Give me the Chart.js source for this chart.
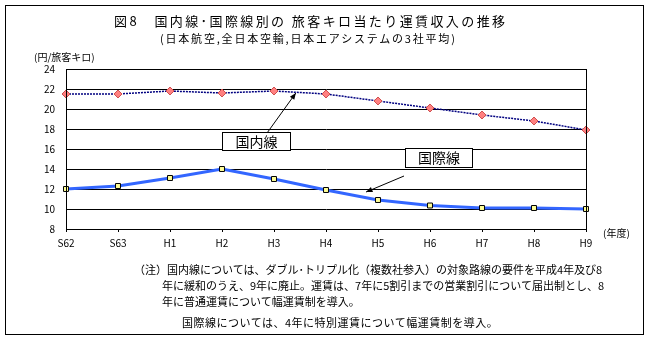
<!DOCTYPE html>
<html>
<head>
<meta charset="utf-8">
<script src="https://cdn.jsdelivr.net/npm/chart.js@4"></script>
<style>
  body { margin: 0; background: #fff; }
  #wrap { position: relative; width: 650px; height: 340px; overflow: hidden;
          font-family: "Noto Sans CJK JP", sans-serif; color: #000; }
  #frame { position: absolute; left: 5px; top: 5px; width: 637px; height: 328px; border: 1px solid #000; }
  canvas { position: absolute; left: 0; top: 0; }
  .t { position: absolute; white-space: nowrap; line-height: 1; }
  .note { font-size: 11px; letter-spacing: 0; }
  .box { position: absolute; background: #fff; border: 1px solid #000; font-size: 14px;
         line-height: 16px; text-align: center; }
</style>
</head>
<body>
<div id="wrap">
  <div id="frame"></div>
  <canvas id="myChart" width="650" height="340"></canvas>
  <div class="t" style="left:114px;top:14px;font-size:13px;letter-spacing:2.4px">図8　国内線･国際線別の 旅客キロ当たり運賃収入の推移</div>
  <div class="t" style="left:160px;top:33px;font-size:11px;letter-spacing:1.8px">(日本航空,全日本空輸,日本エアシステムの3社平均)</div>
  <div class="t" style="left:34px;top:52px;font-size:10px">(円/旅客キロ)</div>
  <div class="t" style="left:603px;top:228px;font-size:10px">(年度)</div>
  <div class="box" style="left:222px;top:132px;width:67px;height:17px">国内線</div>
  <div class="box" style="left:405px;top:148px;width:66px;height:18px">国際線</div>
  <div class="t note" style="left:134px;top:264px">（注）国内線については、ダブル･トリプル化（複数社参入）の対象路線の要件を平成4年及び8</div>
  <div class="t note" style="left:162px;top:280px">年に緩和のうえ、9年に廃止。運賃は、7年に5割引までの営業割引について届出制とし、8</div>
  <div class="t note" style="left:162px;top:296px">年に普通運賃について幅運賃制を導入。</div>
  <div class="t note" style="left:182px;top:317px;letter-spacing:0.5px">国際線については、4年に特別運賃について幅運賃制を導入。</div>
</div>
<script>
// data
const years = ["S62", "S63", "H1", "H2", "H3", "H4", "H5", "H6", "H7", "H8", "H9"];
const domestic = [21.5, 21.5, 21.8, 21.6, 21.8, 21.5, 20.8, 20.1, 19.4, 18.8, 17.9];
const international = [12.0, 12.3, 13.1, 14.0, 13.0, 11.9, 10.9, 10.35, 10.1, 10.1, 10.0];
const yTicks = [8, 10, 12, 14, 16, 18, 20, 22, 24];

// arrows: [from index, from value, to index, to value]
const arrows = [
    [3.88, 17.7, 4.42, 21.6],
    [6.5, 13.3, 5.77, 11.7],
];

// frame around plot + callout arrows
const extras = {
    id: "extras",
    afterDraw(chart) {
        const c = chart.ctx;
        const a = chart.chartArea;
        const xs = chart.scales.x, ys = chart.scales.y;
        c.save();
        c.strokeStyle = "#000";
        c.lineWidth = 1;
        c.strokeRect(Math.round(a.left) + 0.5, Math.round(a.top) + 0.5,
            Math.round(a.right - a.left), Math.round(a.bottom - a.top));
        arrows.forEach(([i0, v0, i1, v1]) => {
            const x0 = xs.getPixelForValue(i0), y0 = ys.getPixelForValue(v0);
            const x1 = xs.getPixelForValue(i1), y1 = ys.getPixelForValue(v1);
            c.beginPath();
            c.moveTo(x0, y0);
            c.lineTo(x1, y1);
            c.stroke();
            const ang = Math.atan2(y1 - y0, x1 - x0);
            c.beginPath();
            c.moveTo(x1, y1);
            c.lineTo(x1 - 7 * Math.cos(ang - 0.4), y1 - 7 * Math.sin(ang - 0.4));
            c.lineTo(x1 - 7 * Math.cos(ang + 0.4), y1 - 7 * Math.sin(ang + 0.4));
            c.closePath();
            c.fillStyle = "#000";
            c.fill();
        });
        c.restore();
    }
};

const ctx = document.getElementById("myChart");
const myChart = new Chart(ctx, {
    type: "line",
    data: {
        labels: years,
        datasets: [
            {
                label: "国内線",
                data: domestic,
                borderColor: "#000080",
                borderWidth: 1.5,
                borderDash: [2, 1],
                pointStyle: "rectRot",
                pointRadius: 4,
                pointBackgroundColor: "#ff8080",
                pointBorderColor: "#d05050",
                pointBorderWidth: 1,
                tension: 0,
            },
            {
                label: "国際線",
                data: international,
                borderColor: "#3366ff",
                borderWidth: 3,
                pointStyle: "rect",
                pointRadius: 3.5,
                pointBackgroundColor: "#ffff99",
                pointBorderColor: "#000",
                pointBorderWidth: 1,
                tension: 0,
            },
        ],
    },
    options: {
        responsive: false,
        animation: false,
        layout: { padding: { left: 0, top: 69, right: 64, bottom: 81 } },
        plugins: { legend: { display: false }, tooltip: { enabled: false } },
        scales: {
            x: {
                offset: false,
                afterFit: (s) => { s.height = 30; },
                grid: { drawOnChartArea: false, drawTicks: true, tickLength: 3, color: "#000" },
                border: { color: "#000" },
                ticks: { color: "#000", padding: 5, maxRotation: 0, autoSkip: false,
                         font: { family: "Noto Sans CJK JP", size: 10 } },
            },
            y: {
                min: 8,
                max: 24,
                afterFit: (s) => { s.width = 66; },
                afterBuildTicks: (s) => { s.ticks = yTicks.map(v => ({ value: v })); },
                grid: { color: "#000", drawTicks: false },
                border: { color: "#000" },
                ticks: { color: "#000", padding: 11,
                         font: { family: "Noto Sans CJK JP", size: 10 } },
            },
        },
    },
    plugins: [extras],
});
</script>
</body>
</html>
